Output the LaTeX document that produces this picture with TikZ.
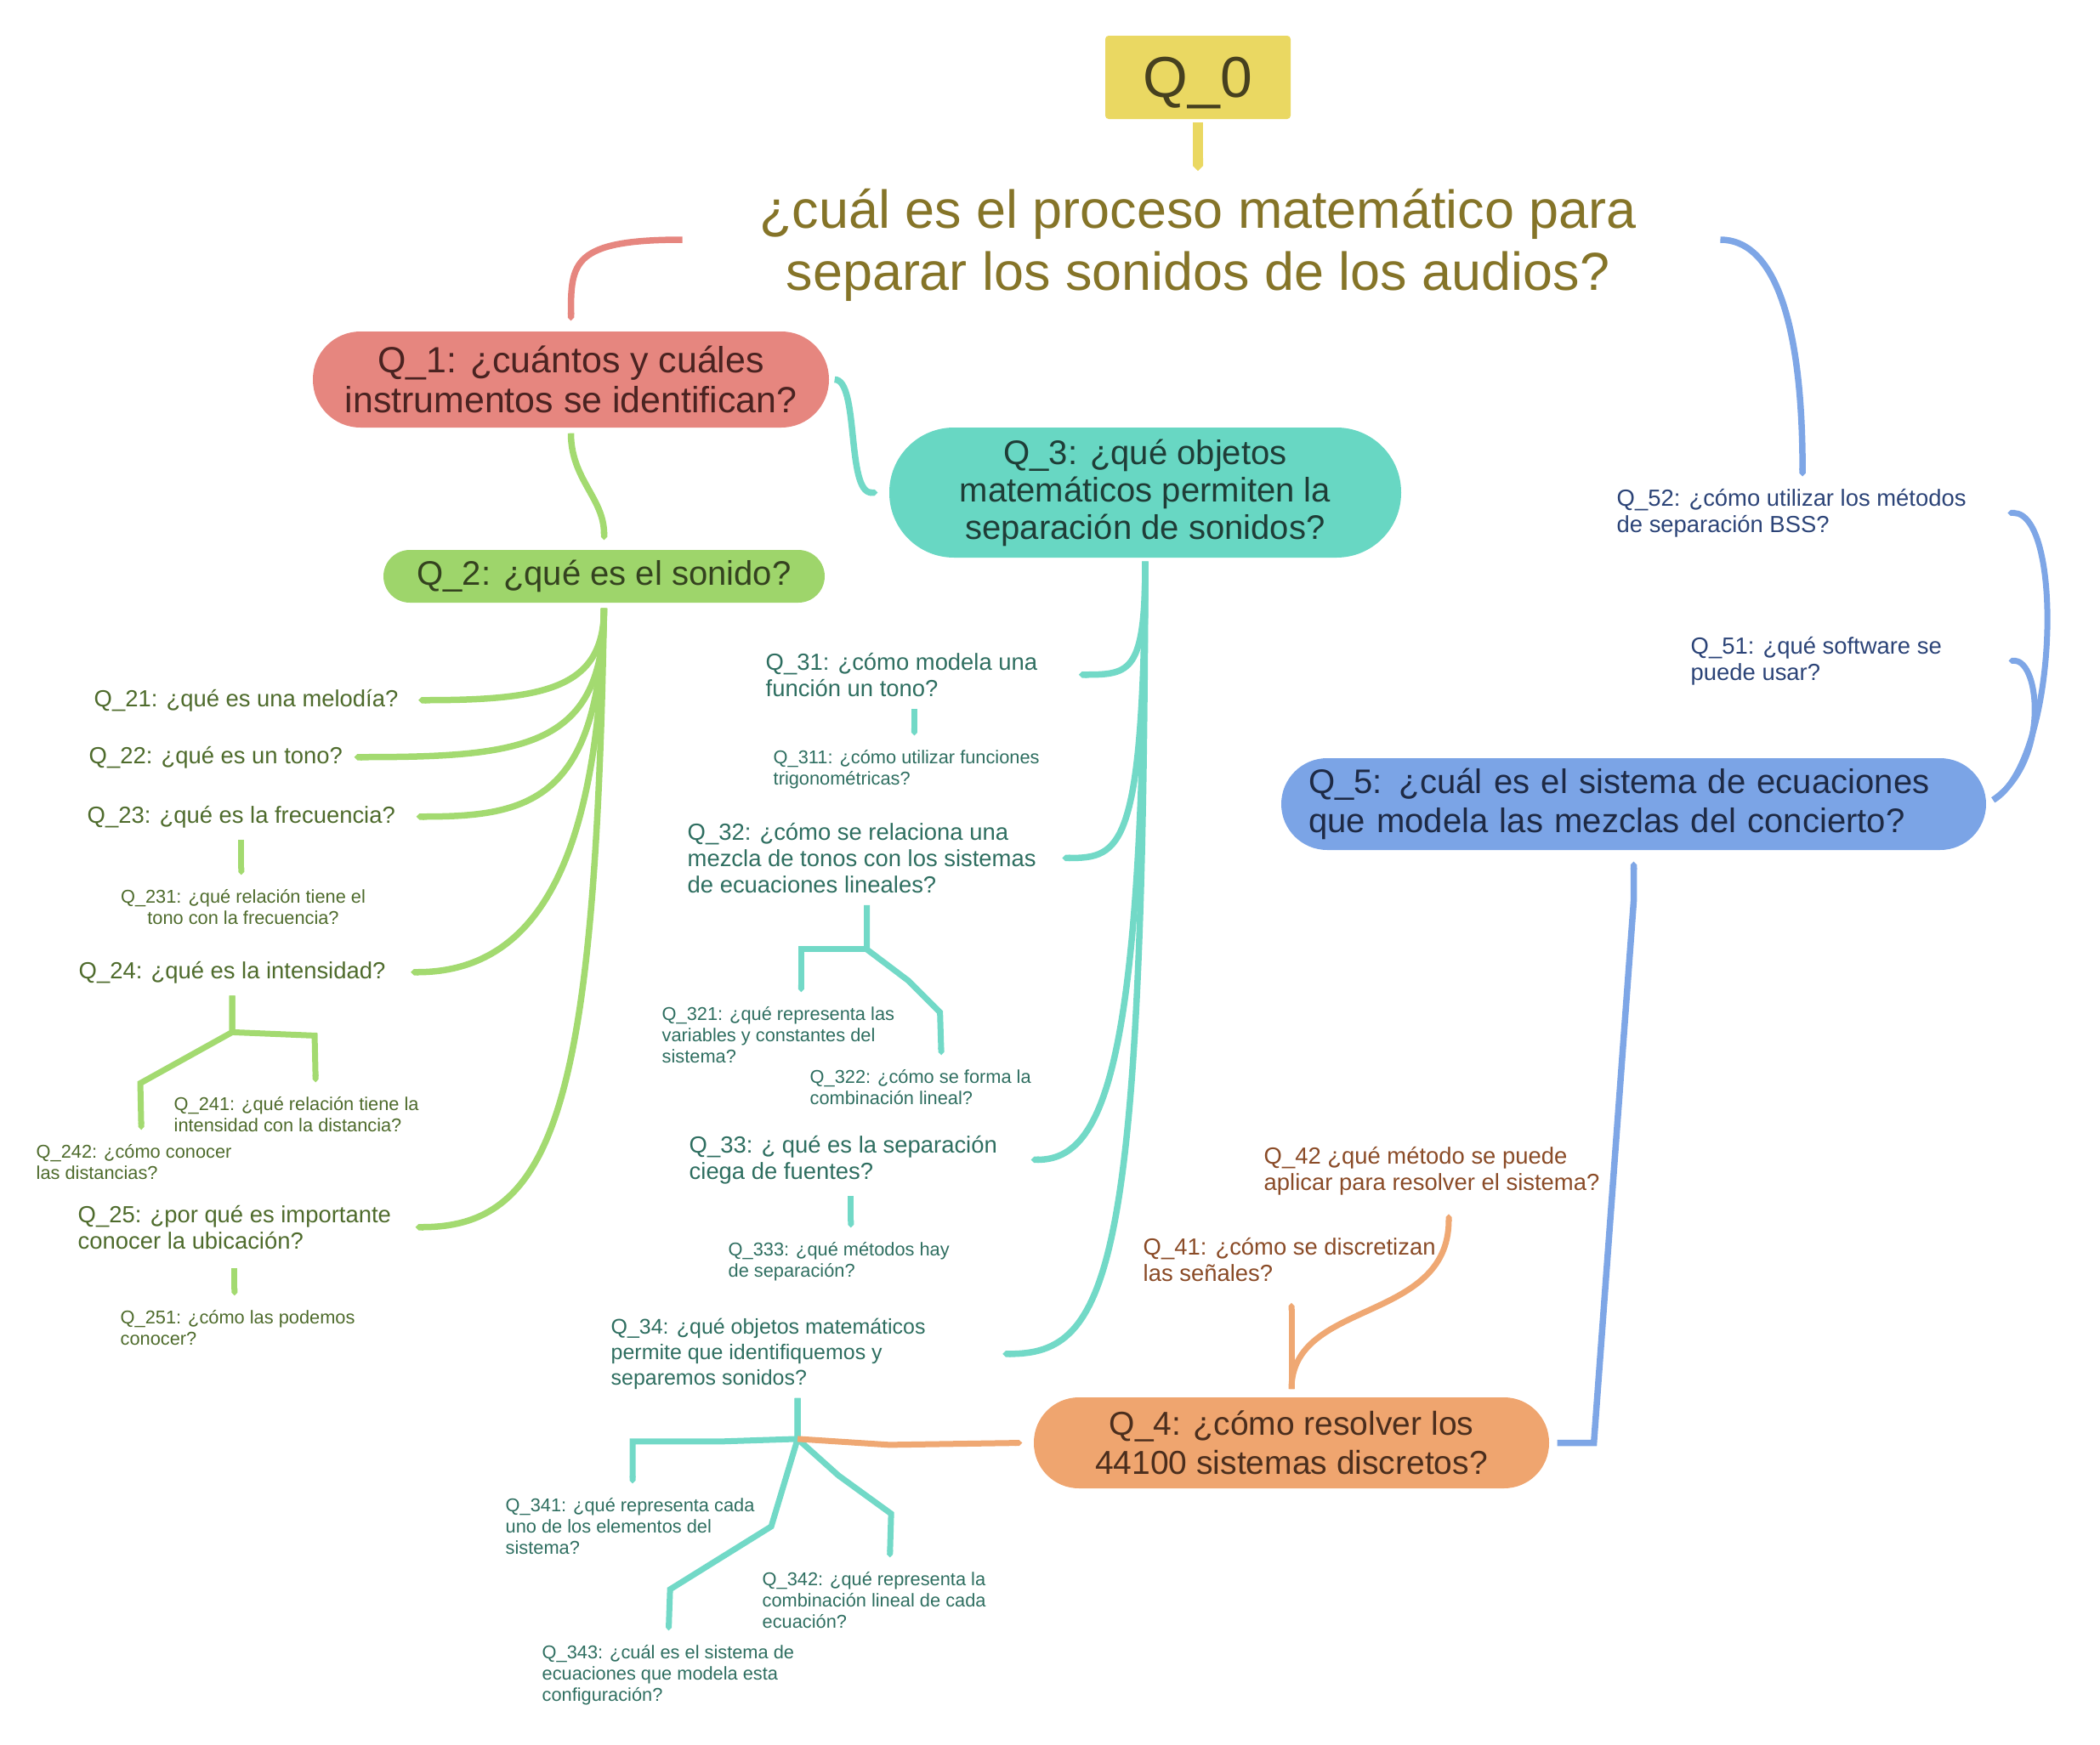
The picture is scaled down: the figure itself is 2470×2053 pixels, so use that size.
\documentclass[tikz,border=0pt]{standalone}
\usepackage{fontspec}
\setmainfont{Liberation Sans}
\usetikzlibrary{arrows.meta}

\newcommand{\fsz}[2]{\fontsize{#1}{#2}\selectfont}

\definecolor{yelfill}{HTML}{EAD862}
\definecolor{yeltxt}{HTML}{46401F}
\definecolor{ttltxt}{HTML}{857428}
\definecolor{redfill}{HTML}{E6867F}
\definecolor{redtxt}{HTML}{4A2321}
\definecolor{grnfill}{HTML}{9ED56B}
\definecolor{grnln}{HTML}{A3DA70}
\definecolor{grntxt}{HTML}{4E6B2C}
\definecolor{grndark}{HTML}{34421F}
\definecolor{tlfill}{HTML}{68D7C3}
\definecolor{tlln}{HTML}{72D9C7}
\definecolor{tltxt}{HTML}{2E6E60}
\definecolor{tldark}{HTML}{1F3D37}
\definecolor{orfill}{HTML}{EFA56F}
\definecolor{orln}{HTML}{EFA873}
\definecolor{ortxt}{HTML}{8A4B27}
\definecolor{ordark}{HTML}{4B2E1D}
\definecolor{blfill}{HTML}{7BA4E6}
\definecolor{blln}{HTML}{7EA6E6}
\definecolor{bltxt}{HTML}{2B4377}
\definecolor{bldark}{HTML}{1E2A45}

\tikzset{
  pill/.style={inner sep=0pt, align=center},
  lvtwo/.style={inner sep=0pt, align=left, anchor=base west, font=\fsz{7.8pt}{8.7pt}},
  lvthree/.style={inner sep=0pt, align=left, anchor=base west, font=\fsz{6.2pt}{7.1pt}},
  link/.style={line width=0.75mm, -{Triangle Cap}},
  sublink/.style={line width=0.7mm, -{Triangle Cap}, shorten <=1.4mm, shorten >=1.6mm},
}

\begin{document}
\begin{tikzpicture}[x=0.1mm, y=-0.1mm]
  \useasboundingbox (0,0) rectangle (2470,2053);

  % root and main question
  \node [fill=yelfill, rounded corners=0.4mm, minimum width=21.8mm, minimum height=9.8mm,
    inner sep=0pt, text depth=0pt, text=yeltxt, font=\fsz{19.3pt}{20pt}] (q0) at (1409,91) {Q\_0};
  \node [align=center, inner sep=0pt, text=ttltxt, font=\fsz{17.9pt}{20.7pt}] (title) at (1409,288)
    {¿cuál es el proceso matemático para\\separar los sonidos de los audios?};

  % main branches
  \node [pill, fill=redfill, text=redtxt, minimum width=60.7mm, minimum height=11.3mm,
    rounded corners=5.6mm, font=\fsz{12.2pt}{13.4pt}] (q1) at (671.5,446.5)
    {Q\_1: ¿cuántos y cuáles\\instrumentos se identifican?};
  \node [pill, fill=grnfill, text=grndark, minimum width=51.9mm, minimum height=6.2mm,
    rounded corners=3.1mm, font=\fsz{11.4pt}{12.5pt}] (q2) at (710.5,678)
    {Q\_2: ¿qué es el sonido?};
  \node [pill, fill=tlfill, text=tldark, minimum width=60.2mm, minimum height=15.3mm,
    rounded corners=7.6mm, font=\fsz{11.4pt}{12.5pt}] (q3) at (1347,579.5)
    {Q\_3: ¿qué objetos\\matemáticos permiten la\\separación de sonidos?};
  \node [pill, fill=orfill, text=ordark, minimum width=60.6mm, minimum height=10.7mm,
    rounded corners=5.3mm, font=\fsz{11.1pt}{13.1pt}] (q4) at (1519,1697.5)
    {Q\_4: ¿cómo resolver los\\44100 sistemas discretos?};
  \node [pill, align=left, fill=blfill, text=bldark, text width=76.5mm, inner xsep=3.2mm,
    minimum height=10.8mm, rounded corners=5.4mm, font=\fsz{11.4pt}{13pt}] (q5) at (1921.5,946)
    {Q\_5: ¿cuál es el sistema de ecuaciones\\que modela las mezclas del concierto?};

  % green questions
  \node [lvtwo, text=grntxt] (q21) at (110,831) {Q\_21: ¿qué es una melodía?};
  \node [lvtwo, text=grntxt] (q22) at (104,898) {Q\_22: ¿qué es un tono?};
  \node [lvtwo, text=grntxt] (q23) at (102,968) {Q\_23: ¿qué es la frecuencia?};
  \node [lvtwo, text=grntxt] (q24) at (92,1151) {Q\_24: ¿qué es la intensidad?};
  \node [lvtwo, text=grntxt] (q25) at (91,1469) {Q\_25: ¿por qué es importante\\conocer la ubicación?};
  \node [lvthree, text=grntxt, align=center, anchor=base] (q231) at (286,1087)
    {Q\_231: ¿qué relación tiene el\\tono con la frecuencia?};
  \node [lvthree, text=grntxt] (q241) at (204,1331) {Q\_241: ¿qué relación tiene la\\intensidad con la distancia?};
  \node [lvthree, text=grntxt] (q242) at (42,1387) {Q\_242: ¿cómo conocer\\las distancias?};
  \node [lvthree, text=grntxt] (q251) at (141,1582) {Q\_251: ¿cómo las podemos\\conocer?};

  % teal questions
  \node [lvtwo, text=tltxt] (q31) at (900,819) {Q\_31: ¿cómo modela una\\función un tono?};
  \node [lvtwo, text=tltxt] (q32) at (808,1050)
    {Q\_32: ¿cómo se relaciona una\\mezcla de tonos con los sistemas\\de ecuaciones lineales?};
  \node [lvtwo, text=tltxt] (q33) at (810,1387) {Q\_33: ¿ qué es la separación\\ciega de fuentes?};
  \node [lvtwo, text=tltxt, font=\fsz{7.1pt}{8.4pt}] (q34) at (718,1629)
    {Q\_34: ¿qué objetos matemáticos\\permite que identifiquemos y\\separemos sonidos?};
  \node [lvthree, text=tltxt] (q311) at (909,923) {Q\_311: ¿cómo utilizar funciones\\trigonométricas?};
  \node [lvthree, text=tltxt] (q321) at (778,1250)
    {Q\_321: ¿qué representa las\\variables y constantes del\\sistema?};
  \node [lvthree, text=tltxt] (q322) at (952,1299) {Q\_322: ¿cómo se forma la\\combinación lineal?};
  \node [lvthree, text=tltxt] (q333) at (856,1502) {Q\_333: ¿qué métodos hay\\de separación?};
  \node [lvthree, text=tltxt] (q341) at (594,1828)
    {Q\_341: ¿qué representa cada\\uno de los elementos del\\sistema?};
  \node [lvthree, text=tltxt] (q342) at (896,1915)
    {Q\_342: ¿qué representa la\\combinación lineal de cada\\ecuación?};
  \node [lvthree, text=tltxt] (q343) at (637,2001)
    {Q\_343: ¿cuál es el sistema de\\ecuaciones que modela esta\\configuración?};

  % orange and blue questions
  \node [lvtwo, text=ortxt] (q41) at (1344,1507) {Q\_41: ¿cómo se discretizan\\las señales?};
  \node [lvtwo, text=ortxt] (q42) at (1486,1400) {Q\_42 ¿qué método se puede\\aplicar para resolver el sistema?};
  \node [lvtwo, text=bltxt] (q52) at (1901,626) {Q\_52: ¿cómo utilizar los métodos\\de separación BSS?};
  \node [lvtwo, text=bltxt] (q51) at (1988,800) {Q\_51: ¿qué software se\\puede usar?};

  % connectors from the root
  \draw [link, yelfill, line width=1.2mm, shorten <=0.3mm, shorten >=2mm] (q0.south) -- (title.north);
  \draw [link, redfill, shorten <=9mm, shorten >=1.2mm] ([yshift=0.6mm]title.west) .. controls +(-220,0) and +(0,-80) .. (q1.north);
  \draw [link, blln, shorten <=9.8mm, shorten >=1.4mm] ([yshift=0.6mm]title.east) .. controls +(160,0) and +(0,-200) .. ([xshift=1.3mm]q52.north);
  \draw [link, grnln, shorten <=0.6mm, shorten >=1.1mm] (q1.south) .. controls +(0,60) and +(0,-60) .. (q2.north);
  \draw [link, tlln, shorten <=0.6mm, shorten >=1.3mm] (q1.east) .. controls +(35,0) and +(-50,0) .. (q3.west);

  % green branch
  \draw [link, grnln, shorten <=0.6mm] (q2.south) .. controls +(0,100) and +(150,0) .. ([xshift=2.3mm]q21.east);
  \draw [link, grnln, shorten <=0.6mm] (q2.south) .. controls +(0,170) and +(200,0) .. ([xshift=1.3mm]q22.east);
  \draw [link, grnln, shorten <=0.6mm] (q2.south) .. controls +(-5,235) and +(130,0) .. ([xshift=2.4mm]q23.east);
  \draw [link, grnln, shorten <=0.6mm] (q2.south) .. controls +(-5,290) and +(155,0) .. ([xshift=2.9mm]q24.east);
  \draw [link, grnln, shorten <=0.6mm] (q2.south) .. controls +(-10,590) and +(163,0) .. ([xshift=2.8mm]q25.east);
  \draw [sublink, grnln] (q23.south) -- (q23.south |- q231.north);
  \draw [sublink, grnln, shorten <=2.2mm] (q25.south) -- (q25.south |- q251.north);
  \coordinate (f24) at ([yshift=-5.7mm]q24.south);
  \draw [sublink, grnln] (q24.south) -- (f24) -- ++(97,4) -- ([xshift=2.3mm]q241.north);
  \draw [sublink, grnln] (q24.south) -- (f24) -- ++(-108,60) -- ([xshift=0.9mm]q242.north);

  % teal branch
  \draw [link, tlln, shorten <=0.4mm] (q3.south) .. controls +(0,134) and +(61,0) .. ([xshift=4.8mm]q31.east);
  \draw [link, tlln, shorten <=0.4mm] (q3.south) .. controls +(-2,344) and +(69,0) .. ([xshift=3mm]q32.east);
  \draw [link, tlln, shorten <=0.4mm] (q3.south) .. controls +(-2,594) and +(88,0) .. ([xshift=3.9mm]q33.east);
  \draw [link, tlln, shorten <=0.4mm] (q3.south) .. controls +(-2,844) and +(125,0) .. ([xshift=9mm]q34.east);
  \draw [sublink, tlln] ([xshift=1.5mm]q31.south) -- ([xshift=1.5mm]q31.south |- q311.north);
  \draw [sublink, tlln] ([xshift=0.9mm]q33.south) -- ([xshift=0.9mm]q33.south |- q333.north);
  \coordinate (f32) at ([xshift=0.6mm, yshift=-6.6mm]q32.south);
  \draw [sublink, tlln] ([xshift=0.6mm]q32.south) -- (f32) -| ([xshift=2.7mm]q321.north);
  \draw [sublink, tlln] ([xshift=0.6mm]q32.south) -- (f32) -- ++(49,37) -- ++(37,37) -- ([xshift=2.5mm]q322.north);
  \coordinate (f34) at ([xshift=3.45mm, yshift=-5.8mm]q34.south);
  \draw [sublink, tlln, shorten <=1mm] ([xshift=3.45mm]q34.south) -- (f34) -- ++(-90,3) -| ([xshift=0.3mm]q341.north);
  \draw [sublink, tlln, shorten <=1mm] ([xshift=3.45mm]q34.south) -- (f34) -- ++(48,43) -- ++(62,45) -- ([xshift=1.8mm]q342.north);
  \draw [sublink, tlln, shorten <=1mm] ([xshift=3.45mm]q34.south) -- (f34) -- ++(-31,103) -- ++(-119,74) -- (q343.north);

  % orange branch
  \draw [link, orln, line width=0.7mm] (f34) -- ++(108,7) -- ([xshift=-1.3mm]q4.west);
  \draw [link, orln, line width=0.7mm, shorten <=0.9mm, shorten >=2.5mm] (q4.north) -- (q4.north |- q41.south);
  \draw [link, orln, line width=0.7mm, shorten <=0.9mm, shorten >=2.2mm] (q4.north) .. controls +(0,-115) and +(0,151) .. ([xshift=2mm]q42.south);

  % blue branch
  \draw [link, blln, shorten <=0.9mm, shorten >=1.3mm] (q4.east) -- ([xshift=5.2mm]q4.east) -- ([yshift=-6mm]q5.south) -- (q5.south);
  \draw [link, blln, line width=0.7mm, shorten <=0.9mm] (q5.east) .. controls +(84,-50) and +(67,0) .. ([xshift=4.8mm]q52.east);
  \draw [link, blln, line width=0.7mm, shorten <=0.9mm] (q5.east) .. controls +(74,-50) and +(37,0) .. ([xshift=7.8mm]q51.east);
\end{tikzpicture}
\end{document}
